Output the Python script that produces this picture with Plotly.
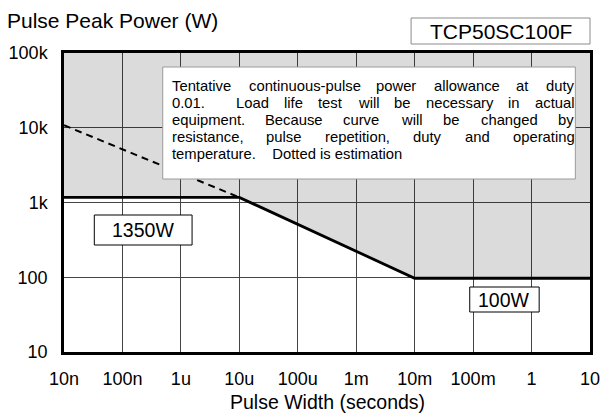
import plotly.graph_objects as go

# ---------------- data ----------------
pulse_width = [1e-8, 1e-5, 1e-2, 10]          # seconds
rated_power = [1170, 1170, 97, 97]            # W (solid limit curve)
est_width = [1e-8, 1e-5]                      # dotted estimation
est_power = [10800, 1170]
x_tickvals = [1e-8, 1e-7, 1e-6, 1e-5, 1e-4, 1e-3, 1e-2, 1e-1, 1, 10]
x_ticktext = ["10n", "100n", "1u", "10u", "100u", "1m", "10m", "100m", "1", "10"]
y_tickvals = [10, 100, 1000, 10000, 100000]
y_ticktext = ["10", "100", "1k", "10k", "100k"]
note_lines = [
    "Tentative continuous-pulse power allowance at duty",
    "0.01.  Load life test will be necessary in actual",
    "equipment. Because curve will be changed by",
    "resistance, pulse repetition, duty and operating",
    "temperature.    Dotted is estimation",
]
label_plateau_hi = "1350W"
label_plateau_lo = "100W"
part_name = "TCP50SC100F"

FONT = "Liberation Sans, Arial, sans-serif"
W, H = 609, 414
PL, PR, PT, PB = 62, 600, 53, 352  # plot area in pixels


def px(X):
    return (X - PL) / (PR - PL)


def py(Y):
    return (PB - Y) / (PB - PT)


ARIAL = {' ': 278, '-': 333, '.': 278, ',': 278,
         'a': 556, 'b': 556, 'c': 500, 'd': 556, 'e': 556, 'f': 278, 'g': 556,
         'h': 556, 'i': 222, 'j': 222, 'k': 500, 'l': 222, 'm': 833, 'n': 556,
         'o': 556, 'p': 556, 'q': 556, 'r': 333, 's': 500, 't': 278, 'u': 556,
         'v': 500, 'w': 722, 'x': 500, 'y': 500, 'z': 500,
         'B': 667, 'D': 722, 'L': 556, 'T': 611}


def tw(s, size):
    return sum(ARIAL.get(c, 556) for c in s) / 1000 * size


fig = go.Figure()

# shaded (not allowed) region above the curve
fig.add_trace(go.Scatter(
    x=pulse_width + [pulse_width[-1], pulse_width[0]],
    y=rated_power + [y_tickvals[-1], y_tickvals[-1]],
    fill="toself", fillcolor="rgba(0,0,0,0.14)",
    mode="lines", line=dict(width=0), hoverinfo="skip"))

fig.add_trace(go.Scatter(x=est_width, y=est_power, mode="lines",
                         line=dict(color="black", width=2, dash="7px,5px")))
fig.add_trace(go.Scatter(x=pulse_width, y=rated_power, mode="lines",
                         line=dict(color="black", width=2.8)))

shapes = []
annotations = []


def box(x0, x1, y0, y1, color, width=1):
    shapes.append(dict(type="rect", xref="paper", yref="paper",
                       x0=px(x0), x1=px(x1), y0=py(y1), y1=py(y0),
                       fillcolor="white", line=dict(color=color, width=width),
                       layer="above"))


def text(X, Y, s, size, anchor="center"):
    annotations.append(dict(xref="paper", yref="paper", x=px(X), y=py(Y),
                            text=s, showarrow=False, xanchor=anchor,
                            yanchor="middle", borderpad=0,
                            font=dict(family=FONT, size=size, color="black")))


def split_line(line):
    tokens, gaps = [], []
    j = 0
    while j < len(line):
        k = j
        if line[j] == ' ':
            while k < len(line) and line[k] == ' ':
                k += 1
            gaps.append(k - j)
        else:
            while k < len(line) and line[k] != ' ':
                k += 1
            tokens.append(line[j:k])
        j = k
    return tokens, gaps


# note box with justified text
box(163, 585, 67, 179, "#9a9a9a")
NS = 14.8
left, right = 171, 582
line_y = [86, 103, 120, 137, 154]
for i, line in enumerate(note_lines):
    if i < len(note_lines) - 1:
        tokens, gaps = split_line(line)
        nat = sum(tw(t, NS) for t in tokens)
        per = (right - left - nat) / sum(gaps)
        x = left
        for t_i, t in enumerate(tokens):
            text(x, line_y[i], t, NS, "left")
            x += tw(t, NS)
            if t_i < len(gaps):
                x += gaps[t_i] * per
    else:
        text(left, line_y[i], line.replace(" ", "&nbsp;"), NS, "left")

box(93, 193, 215, 245, "black")
text(143, 230, label_plateau_hi, 19.5)
box(477, 548, 287, 312, "black")
text(512.5, 299.5, label_plateau_lo, 19.5)
box(417, 600, 18, 44, "#8a8a8a")
text(508.5, 31, part_name, 21)

# axis title
text(331, 402, "Pulse Width (seconds)", 19.5)

fig.update_layout(
    width=W, height=H,
    margin=dict(l=PL, r=W - PR, t=PT, b=H - PB),
    plot_bgcolor="white", paper_bgcolor="white",
    showlegend=False,
    font=dict(family=FONT, size=18, color="black"),
    title=dict(text="Pulse Peak Power (W)", xref="container", yref="container",
               x=7 / W, xanchor="left", y=1 - 21 / H, yanchor="middle",
               font=dict(family=FONT, size=21, color="black")),
    shapes=shapes, annotations=annotations,
)
fig.update_xaxes(type="log", range=[-8, 1], tickvals=x_tickvals, ticktext=x_ticktext,
                 showgrid=True, gridcolor="#444", gridwidth=1,
                 showline=True, linecolor="black", linewidth=2.5, mirror=True,
                 ticks="", zeroline=False, ticklabelstandoff=9)
fig.update_yaxes(type="log", range=[1, 5], tickvals=y_tickvals, ticktext=y_ticktext,
                 showgrid=True, gridcolor="#444", gridwidth=1,
                 showline=True, linecolor="black", linewidth=2.5, mirror=True,
                 ticks="", zeroline=False, ticklabelstandoff=10)

fig.write_html("out.html", config={"displayModeBar": False},
               post_script="document.body.style.margin='0px';")
